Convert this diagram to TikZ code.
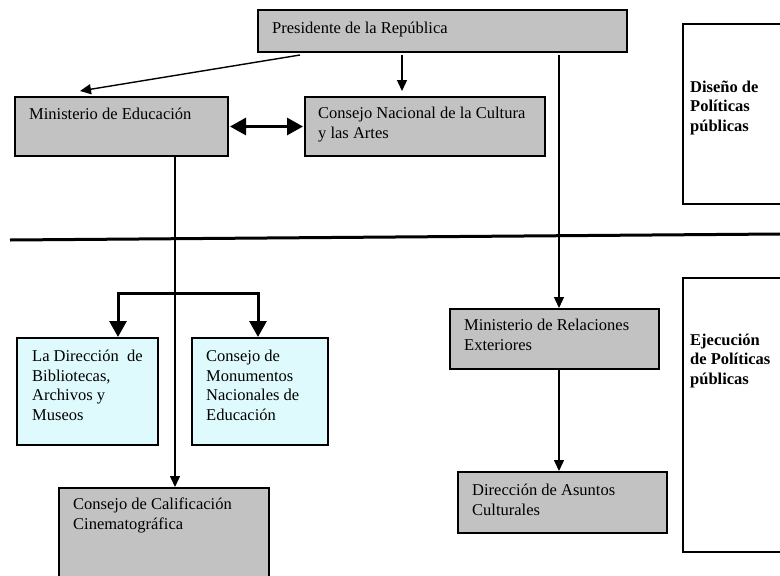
\documentclass[tikz,border=0pt]{standalone}
\usepackage{fontspec}
\setmainfont{Liberation Serif}
\usetikzlibrary{arrows.meta,calc}
\definecolor{boxgray}{RGB}{194,194,194}
\definecolor{boxblue}{RGB}{222,250,252}
\begin{document}
\begin{tikzpicture}[x=1pt,y=-1pt,
 box/.style={draw=black,line width=2.6pt,anchor=north west,inner sep=0pt,outer sep=0pt},
 gbox/.style={box,fill=boxgray},
 bbox/.style={box,fill=boxblue},
 wbox/.style={box,fill=white},
 txt/.style={anchor=base west,inner sep=0pt,font=\fontsize{16.5}{19.5}\selectfont,align=left},
 btxt/.style={anchor=base west,inner sep=0pt,font=\fontsize{16.5}{19.5}\selectfont\bfseries,align=left},
 thinarr/.style={line width=1.4pt,-{Triangle[length=11pt,width=10pt]}},
 dblarr/.style={line width=3pt,{Triangle[length=16pt,width=17pt]}-{Triangle[length=16pt,width=17pt]}},
]
\useasboundingbox (0,0) rectangle (780,576);
\fill[white] (0,0) rectangle (780,576);

% boxes
\node[gbox,minimum width=369pt,minimum height=42pt] (pres) at (258,10) {};
\node[gbox,minimum width=213pt,minimum height=59pt] (me) at (15,97) {};
\node[gbox,minimum width=240pt,minimum height=59pt] (cn) at (305,97) {};
\node[gbox,minimum width=209pt,minimum height=60pt] (mre) at (450,309) {};
\node[gbox,minimum width=209pt,minimum height=61pt] (dac) at (458,472) {};
\node[bbox,minimum width=141pt,minimum height=107pt] (b1) at (17,338) {};
\node[bbox,minimum width=136pt,minimum height=107pt] (b2) at (192,338) {};
\node[gbox,minimum width=210pt,minimum height=130pt] (ccc) at (59,488) {};
\node[wbox,minimum width=150pt,minimum height=180pt] (dis) at (683,24) {};
\node[wbox,minimum width=150pt,minimum height=274pt] (eje) at (683,278) {};

% texts (base = baseline of last line)
\node[txt] (presT) at (272,33) {Presidente de la República};
\node[txt] (meT) at (29,119) {Ministerio de Educación};
\node[txt] (cnT) at (318,138) {Consejo Nacional de la Cultura\\y las Artes};
\node[txt] (mreT) at (464,350) {Ministerio de Relaciones\\Exteriores};
\node[txt] (dacT) at (472,515) {Dirección de Asuntos\\Culturales};
\node[txt] (b1T) at (32,420) {La Dirección\ \ de\\Bibliotecas,\\Archivos y\\Museos};
\node[txt] (b2T) at (206,420) {Consejo de\\Monumentos\\Nacionales de\\Educación};
\node[txt] (cccT) at (73,529) {Consejo de Calificación\\Cinematográfica};
\node[btxt] (disT) at (690,131) {Diseño de\\Políticas\\públicas};
\node[btxt] (ejeT) at (690,384) {Ejecución\\de Políticas\\públicas};

% divider
\coordinate (dl) at (10,240);
\coordinate (dr) at (780,234);
\draw[line width=3pt] (dl) -- (dr);

% connectors
\draw[thinarr] ($(pres.south west)+(42,3)$) -- ($(me.north west)+(65,-6)$);
\draw[thinarr] ($(pres.south west)+(144,3)$) -- ($(cn.north west)+(97,-6)$);
\draw[dblarr] ($(me.east)+(2,0)$) -- ($(cn.west)+(-2,0)$);
\draw[thinarr] ($(me.south west)+(160,0)$) -- ($(ccc.north west)+(116,-1)$);
\coordinate (br) at (175,293);
\draw[dblarr] ($(b1.north west)+(101,-1)$) |- (br) -| ($(b2.north west)+(66,-1)$);
\draw[thinarr] ($(pres.south west)+(301,3)$) -- ($(mre.north west)+(109,-1)$);
\draw[thinarr] ($(mre.south west)+(109,0)$) -- ($(dac.north west)+(101,-1)$);
\end{tikzpicture}
\end{document}
